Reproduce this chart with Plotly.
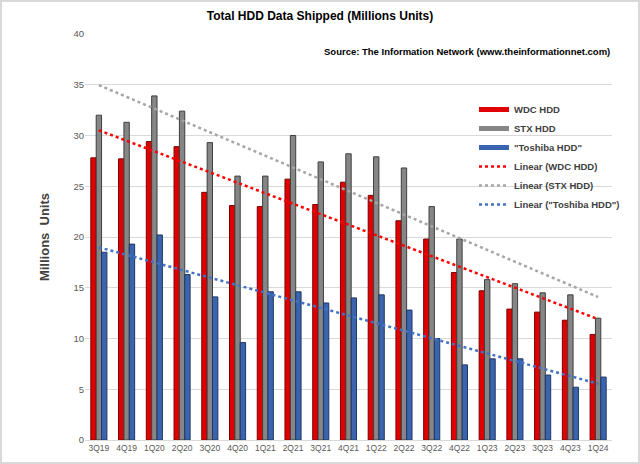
import numpy as np
import plotly.graph_objects as go

quarters = ["3Q19", "4Q19", "1Q20", "2Q20", "3Q20", "4Q20", "1Q21", "2Q21", "3Q21", "4Q21",
            "1Q22", "2Q22", "3Q22", "4Q22", "1Q23", "2Q23", "3Q23", "4Q23", "1Q24"]
wdc = [27.8, 27.7, 29.4, 28.9, 24.4, 23.1, 23.0, 25.7, 23.2, 25.4,
       24.1, 21.6, 19.8, 16.5, 14.7, 12.9, 12.6, 11.8, 10.4]
stx = [32.0, 31.3, 33.9, 32.4, 29.3, 26.0, 26.0, 30.0, 27.4, 28.2,
       27.9, 26.8, 23.0, 19.8, 15.8, 15.4, 14.5, 14.3, 12.0]
toshiba = [18.5, 19.3, 20.2, 16.3, 14.1, 9.6, 14.6, 14.6, 13.5, 14.0,
           14.3, 12.8, 10.0, 7.4, 8.0, 8.0, 6.4, 5.2, 6.2]

def linear_fit(vals):
    idx = np.arange(len(vals))
    m, b = np.polyfit(idx, vals, 1)
    return list(m * idx + b)

font_main = "Liberation Sans, Arial, sans-serif"
tick_color = "#595959"

bar_specs = [
    ("WDC HDD", wdc, "#E00000", "#7A0000"),
    ("STX HDD", stx, "#868686", "#3F3F3F"),
    ("\"Toshiba HDD\"", toshiba, "#3A64AE", "#1F3864"),
]

fig = go.Figure()
for name, vals, col, edge in bar_specs:
    fig.add_trace(go.Bar(x=quarters, y=vals, name=name, showlegend=False, legendgroup=name,
                         marker=dict(color=col, line=dict(color=edge, width=1))))
# legend entries for bars drawn as wide rectangles
for name, vals, col, edge in bar_specs:
    fig.add_trace(go.Scatter(x=[None], y=[None], name="<b>" + name + "</b>", legendgroup=name,
                             mode="lines", line=dict(color=col, width=5)))

trend_specs = [
    ("Linear (WDC HDD)", wdc, "#FF0000"),
    ("Linear (STX HDD)", stx, "#A6A6A6"),
    ("Linear (\"Toshiba HDD\")", toshiba, "#4472C4"),
]
for name, vals, col in trend_specs:
    fig.add_trace(go.Scatter(x=quarters, y=linear_fit(vals), name="<b>" + name + "</b>",
                             mode="lines", line=dict(color=col, width=2.5, dash="dot")))

L, R, T, B = 85, 28, 34, 24
W, H = 640, 464
pw, ph = W - L - R, H - T - B

fig.update_layout(
    width=W, height=H,
    margin=dict(l=L, r=R, t=T, b=B, autoexpand=False),
    paper_bgcolor="white", plot_bgcolor="white",
    barmode="group", bargap=0.42, bargroupgap=0,
    font=dict(family=font_main, color=tick_color),
    title=dict(text="<b>Total HDD Data Shipped (Millions Units)</b>", x=0.5, xanchor="center",
               y=1 - 16 / H, yanchor="middle",
               font=dict(size=12, color="#000000", family=font_main)),
    xaxis=dict(showgrid=False, showline=True, linecolor="#D9D9D9", linewidth=1,
               tickfont=dict(size=8.5, color=tick_color), ticks="", automargin=False),
    yaxis=dict(range=[0, 40], dtick=5, showgrid=True, gridcolor="#D9D9D9", gridwidth=1,
               zeroline=False, tickfont=dict(size=9.5, color=tick_color), ticks="",
               automargin=False,
               title=dict(text="<b>Millions  Units</b>", standoff=20,
                          font=dict(size=13, color="#404040", family=font_main))),
    legend=dict(x=(474 - L) / pw, y=(H - B - 95) / ph, xanchor="left", yanchor="top",
                bgcolor="rgba(0,0,0,0)", tracegroupgap=0, itemwidth=30,
                font=dict(size=9.5, color="#404040", family=font_main)),
    annotations=[dict(text="<b>Source: The Information Network (www.theinformationnet.com)</b>",
                      xref="paper", yref="paper", x=1, y=(H - B - 52) / ph,
                      xanchor="right", yanchor="middle", showarrow=False,
                      font=dict(size=9.5, color="#000000", family=font_main))],
    shapes=[dict(type="rect", xref="paper", yref="paper",
                 x0=-(L - 1) / pw, x1=1 + (R - 1) / pw,
                 y0=-(B - 1) / ph, y1=1 + (T - 1) / ph,
                 line=dict(color="#D9D9D9", width=2), fillcolor="rgba(0,0,0,0)", layer="below")],
)

fig.write_html("out.html")
